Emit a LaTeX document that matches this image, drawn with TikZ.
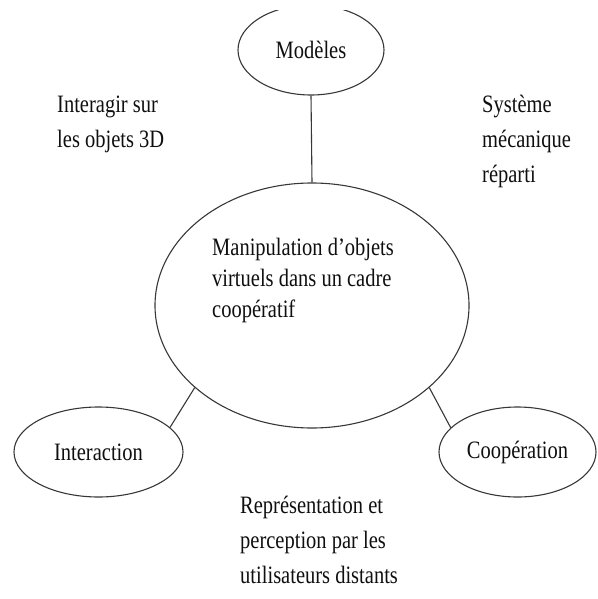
\documentclass[tikz,border=0pt]{standalone}
\usepackage{fontspec}
\setmainfont[FakeStretch=0.82]{Liberation Serif}
\usetikzlibrary{shapes.geometric}
\definecolor{lineGray}{RGB}{55,55,55}
\definecolor{textDark}{RGB}{15,15,15}

\begin{document}
\begin{tikzpicture}[x=1pt, y=-1pt,
    bubble/.style={ellipse, draw=lineGray, line width=1.1pt, inner sep=0pt,
                   font=\fontsize{25}{31}\selectfont\color{textDark}},
    note/.style={anchor=north west, inner sep=0pt, align=left,
                 font=\fontsize{25}{35}\selectfont\color{textDark}},
    link/.style={lineGray, line width=1.1pt}
  ]
  \useasboundingbox (0,0) rectangle (597,599);

  % The ellipses
  \begin{scope}
    \clip (0,11) rectangle (597,599);
    \node[bubble, minimum width=146, minimum height=90] (model) at (311,50) {Modèles};
  \end{scope}
  \node[bubble, minimum width=314, minimum height=245] (main) at (312,305.5) {};
  \node[bubble, minimum width=169, minimum height=90] (inter) at (98.5,452) {Interaction};
  \node[bubble, minimum width=157, minimum height=90] (coop) at (517.5,452) {Coopération};

  \node[note, font=\fontsize{25}{31}\selectfont\color{textDark}] (maintext) at (212,238)
    {Manipulation d’objets\\virtuels dans un cadre\\coopératif};

  % Labels round the diagram
  \node[note] (interagir) at (57,95.5) {Interagir sur\\les objets 3D};
  \node[note] (systeme)   at (482,95)  {Système\\mécanique\\réparti};
  \node[note] (repr)      at (240,496) {Représentation et\\perception par les\\utilisateurs distants};

  % Connections
  \draw[link] (model.south) -- (main.north);
  \draw[link] (main.215) -- (inter.19);
  \draw[link] (main.325) -- (coop.160);
\end{tikzpicture}
\end{document}
